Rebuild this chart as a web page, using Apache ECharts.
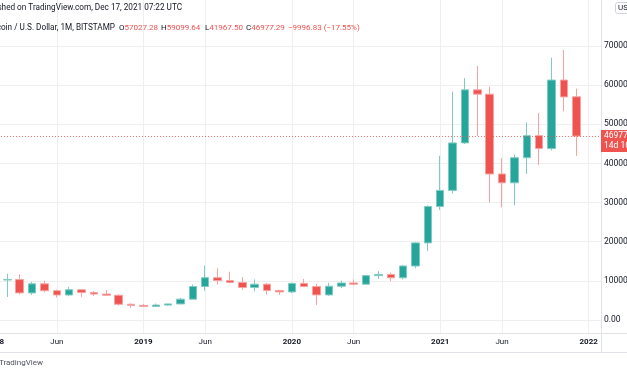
<!DOCTYPE html>
<html>
<head>
<meta charset="utf-8">
<script src="https://cdn.jsdelivr.net/npm/echarts@6/dist/echarts.min.js"></script>
<style>
html,body{margin:0;padding:0;background:#fff}
#main{width:627px;height:376px}
</style>
</head>
<body>
<div id="main"></div>
<script>
// monthly candles, Bitstamp BTC/USD, Jan 2018 .. Dec 2021 (two empty months after)
var months = ['2018-01','2018-02','2018-03','2018-04','2018-05','2018-06','2018-07','2018-08','2018-09','2018-10','2018-11','2018-12',
  '2019-01','2019-02','2019-03','2019-04','2019-05','2019-06','2019-07','2019-08','2019-09','2019-10','2019-11','2019-12',
  '2020-01','2020-02','2020-03','2020-04','2020-05','2020-06','2020-07','2020-08','2020-09','2020-10','2020-11','2020-12',
  '2021-01','2021-02','2021-03','2021-04','2021-05','2021-06','2021-07','2021-08','2021-09','2021-10','2021-11','2021-12',
  '2022-01','2022-02'];
var opens = [13880, 10221, 10326, 6923, 9240, 7485, 6390, 7729, 7011, 6625, 6318, 4017,
  3742, 3437, 3820, 4105, 5321, 8555, 10817, 10085, 9600, 8300, 9150, 7550,
  7180, 9350, 8545, 6410, 8630, 9450, 9140, 11340, 11650, 10780, 13800, 19700,
  28990, 33110, 45240, 58800, 57700, 37300, 35040, 41460, 47100, 43800, 61300, 57027.28];
var closes = [10221, 10326, 6923, 9240, 7485, 6390, 7729, 7011, 6625, 6318, 4017, 3742,
  3437, 3820, 4105, 5321, 8555, 10817, 10085, 9600, 8300, 9150, 7550, 7180,
  9350, 8545, 6410, 8630, 9450, 9140, 11340, 11650, 10780, 13800, 19700, 28990,
  33110, 45240, 58800, 57700, 37300, 35040, 41460, 47100, 43800, 61300, 57000, 46977.29];
var lows = [9036, 5873, 6533, 6430, 7058, 5755, 6074, 5880, 6100, 6200, 3652, 3128,
  3395, 3372, 3690, 4050, 5300, 7460, 9070, 9340, 7730, 7300, 6510, 6420,
  6850, 8450, 3850, 6160, 8130, 8850, 8970, 10540, 9880, 10380, 13200, 17600,
  28130, 32300, 44960, 47000, 30000, 28800, 29300, 37300, 39600, 43300, 53300, 41967.50];
var highs = [17176, 11788, 11680, 9759, 9990, 7769, 8488, 7760, 7410, 7680, 6560, 4255,
  4069, 4200, 4120, 5640, 9080, 13880, 13200, 12330, 10950, 10370, 9510, 7740,
  9580, 10500, 9190, 9460, 10080, 10380, 11440, 12470, 12070, 14100, 19860, 29300,
  41950, 58370, 61790, 64900, 59600, 41300, 42300, 50500, 52900, 67000, 69000, 59099.64];

// legend line values
var ohlcNames = ['O', 'H', 'L', 'C'];
var ohlcTexts = ['57027.28', '59099.64', '41967.50', '46977.29'];
var changeText = '\u22129996.83 (\u221217.55%)';
var lastPrice = 46977.29;

var UP = '#26a69a', DOWN = '#ef5350';
var GRID = '#efefef', TXT = '#131722';
var FONT = 'Roboto, "Noto Sans", sans-serif';
var HFONT = '8.2px ' + FONT;

var candles = months.map(function (m, i) {
  if (i >= opens.length) return '-';
  return [opens[i], closes[i], lows[i], highs[i]];
});

function janOrJun(idx, val) {
  var mm = val.slice(5);
  return mm === '01' || mm === '06';
}

var legendX = [119, 161, 205, 246];
var graphics = [
  // pane borders
  {type: 'line', z: 50, shape: {x1: 0, y1: 333.5, x2: 627, y2: 333.5}, style: {stroke: '#e0e3eb', lineWidth: 1}},
  {type: 'line', z: 50, shape: {x1: 0, y1: 352.5, x2: 627, y2: 352.5}, style: {stroke: '#e0e3eb', lineWidth: 1}},
  {type: 'line', z: 50, shape: {x1: 601.5, y1: 0, x2: 601.5, y2: 352}, style: {stroke: '#e0e3eb', lineWidth: 1}},
  // header
  {type: 'text', z: 60, x: 182, y: 8, style: {text: 'Published on TradingView.com, Dec 17, 2021 07:22 UTC', font: HFONT, fill: TXT, align: 'right', verticalAlign: 'middle'}},
  {type: 'text', z: 60, x: 115, y: 28, style: {text: 'Bitcoin / U.S. Dollar, 1M, BITSTAMP', font: HFONT, fill: TXT, align: 'right', verticalAlign: 'middle'}},
  {type: 'text', z: 60, x: 288, y: 28, style: {text: changeText, font: '8px ' + FONT, fill: DOWN, verticalAlign: 'middle'}},
  // USD button
  {type: 'rect', z: 60, shape: {x: 615.5, y: 2.5, width: 20, height: 11, r: 2}, style: {fill: '#fff', stroke: '#d1d4dc', lineWidth: 1}},
  {type: 'text', z: 61, x: 618, y: 8, style: {text: 'USD', font: '8px ' + FONT, fill: TXT, verticalAlign: 'middle'}},
  // last price tag
  {type: 'rect', z: 60, shape: {x: 601, y: 130, width: 30, height: 22}, style: {fill: DOWN}},
  {type: 'text', z: 61, x: 604, y: 136, style: {text: '46977.29', font: '8.5px ' + FONT, fill: '#fff', verticalAlign: 'middle'}},
  {type: 'text', z: 61, x: 604, y: 146, style: {text: '14d 16h', font: '8.5px ' + FONT, fill: '#fff', verticalAlign: 'middle'}},
  // footer
  {type: 'text', z: 60, x: 43, y: 363, style: {text: 'TradingView', font: '8px ' + FONT, fill: '#50535e', align: 'right', verticalAlign: 'middle'}}
];
ohlcNames.forEach(function (n, i) {
  graphics.push({type: 'text', z: 60, x: legendX[i], y: 28, style: {
    text: '{l|' + n + '}{v|' + ohlcTexts[i] + '}', font: '8px ' + FONT, verticalAlign: 'middle',
    rich: {l: {fill: TXT, font: '8px ' + FONT}, v: {fill: DOWN, font: '8px ' + FONT}}
  }});
});

var chart = echarts.init(document.getElementById('main'));
chart.setOption({
  animation: false,
  backgroundColor: '#fff',
  // outerBoundsMode none: let labels hang off the edges like the screenshot
  grid: [
    {left: -5, right: 26, top: 0, bottom: 43, containLabel: false, outerBoundsMode: 'none'},
    {left: -5, right: 26, top: 46, bottom: 56, containLabel: false, outerBoundsMode: 'none'}
  ],
  xAxis: [
    {
      type: 'category', gridIndex: 0, data: months, boundaryGap: false,
      axisLine: {show: false}, axisTick: {show: false},
      splitLine: {show: true, interval: janOrJun, lineStyle: {color: GRID}},
      axisLabel: {
        interval: janOrJun, margin: 5,
        formatter: function (v) {
          return v.slice(5) === '01' ? '{y|' + v.slice(0, 4) + '}' : '{m|Jun}';
        },
        rich: {
          y: {fontFamily: FONT, fontSize: 8, fontWeight: 'bold', color: TXT},
          m: {fontFamily: FONT, fontSize: 8, color: TXT}
        }
      }
    },
    {type: 'category', gridIndex: 1, data: months, boundaryGap: false, show: false}
  ],
  yAxis: [
    {type: 'value', gridIndex: 0, show: false},
    {
      type: 'value', gridIndex: 1, position: 'right',
      min: 0, max: 70000, interval: 10000,
      axisLine: {show: false}, axisTick: {show: false},
      splitLine: {lineStyle: {color: GRID}},
      axisLabel: {
        margin: 3, fontFamily: FONT, fontSize: 8.5, color: TXT,
        formatter: function (v) { return v === 0 ? '0.00' : String(v); }
      }
    }
  ],
  series: [{
    type: 'candlestick',
    xAxisIndex: 1, yAxisIndex: 1,
    data: candles,
    barWidth: 8,
    clip: false,
    itemStyle: {
      color: UP, color0: DOWN,
      borderColor: '#7fcbc3', borderColor0: '#f5a2a0',
      borderWidth: 1
    },
    markLine: {
      silent: true, symbol: ['none', 'none'],
      label: {show: false},
      lineStyle: {color: DOWN, type: [1, 2], width: 1, opacity: 0.8},
      data: [{yAxis: lastPrice}]
    }
  }],
  graphic: graphics
});
</script>
</body>
</html>
